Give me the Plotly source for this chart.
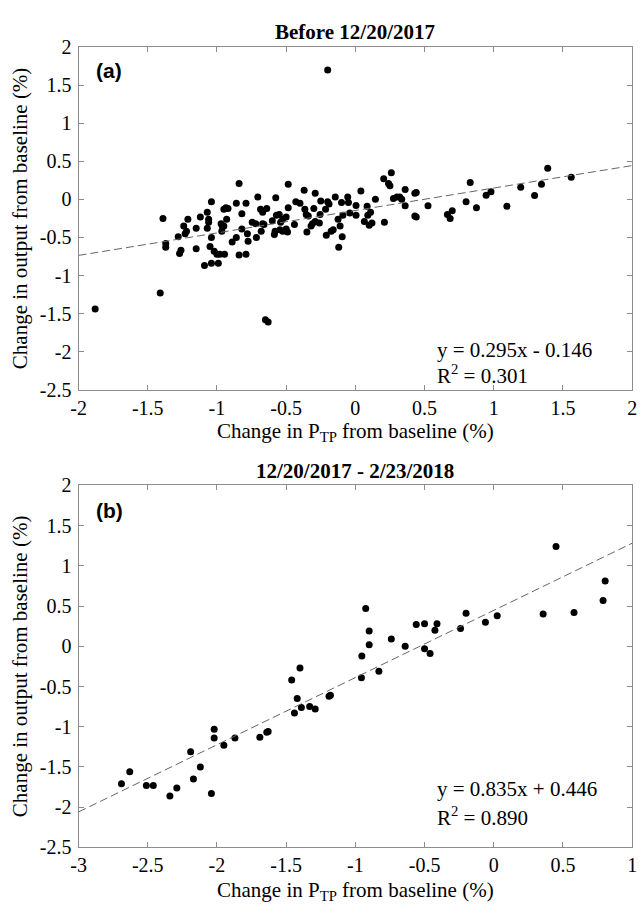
import plotly.graph_objects as go

# ---------------- data ----------------
a_x = [-1.88, -1.41, -1.39, -1.37, -1.37, -1.28, -1.27, -1.26, -1.24, -1.23, -1.22, -1.21,
       -1.15, -1.15, -1.12, -1.09, -1.07, -1.07, -1.06, -1.06, -1.04, -1.04, -1.05, -1.04,
       -1.02, -1.00, -0.98, -0.945, -0.99, -0.97, -0.96, -0.95, -0.965, -0.95, -0.935, -0.92,
       -0.93, -0.89, -0.86, -0.86, -0.84, -0.84, -0.82, -0.82, -0.79, -0.79, -0.78, -0.775,
       -0.745, -0.72, -0.715, -0.705, -0.685, -0.67, -0.68, -0.67,
       -0.66, -0.64, -0.60, -0.585, -0.58, -0.575, -0.57, -0.55, -0.54, -0.525, -0.545, -0.525,
       -0.50, -0.50, -0.49, -0.485, -0.485, -0.44, -0.43, -0.40, -0.37, -0.365, -0.355, -0.34,
       -0.35, -0.32, -0.31, -0.30, -0.29, -0.29, -0.26, -0.25, -0.255, -0.215, -0.21, -0.20,
       -0.19, -0.175, -0.16, -0.145, -0.125, -0.12, -0.11, -0.10, -0.095, -0.09, -0.055, -0.05,
       -0.04, 0.005, 0.005, 0.04, 0.065, 0.085, 0.09, 0.11, 0.10, 0.12, 0.145, 0.21, 0.205,
       0.24, 0.25, 0.26, 0.275, 0.30, 0.32, 0.335, 0.36, 0.36, 0.43, 0.44, 0.43, 0.44, 0.525,
       0.665, 0.685, 0.70, 0.80, 0.83, 0.875, 0.945, 0.98, 1.095, 1.195, 1.295, 1.345, 1.39, 1.56,
       -0.65, -0.63, -0.20]
a_y = [-1.44, -1.23, -0.25, -0.58, -0.63, -0.49, -0.71, -0.67, -0.35, -0.45, -0.42, -0.26,
       -0.38, -0.65, -0.23, -0.87, -0.17, -0.38, -0.26, -0.30, -0.03, -0.50, -0.62, -0.84,
       -0.68, -0.72, -0.72, -0.72, -0.84, -0.32, -0.36, -0.35, -0.42, -0.13, -0.11, -0.12,
       -0.26, -0.56, -0.05, -0.50, 0.21, -0.73, -0.19, -0.39, -0.05, -0.72, -0.45, -0.55,
       -0.30, -0.32, -0.50, 0.03, -0.13, -0.17, -0.42, -0.32,
       -0.33, -0.12, -0.28, -0.46, -0.42, 0.02, -0.21, -0.20, -0.30, -0.26, -0.40, -0.42,
       -0.39, -0.23, -0.43, -0.11, 0.20, -0.33, -0.03, -0.05, 0.12, -0.13, -0.20, -0.22,
       -0.43, -0.35, -0.32, -0.12, 0.08, -0.29, -0.31, -0.02, -0.20, -0.13, -0.47, -0.03,
       -0.06, -0.42, -0.40, 0.03, -0.26, -0.63, -0.35, -0.04, -0.49, -0.21, 0.03, -0.04,
       -0.18, -0.08, -0.21, 0.11, -0.29, -0.09, -0.21, -0.17, -0.34, -0.31, 0.00, -0.30, 0.27,
       0.21, 0.18, 0.35, 0.01, 0.03, 0.03, 0.00, 0.13, -0.085, 0.08, 0.09, -0.22, -0.23, -0.085,
       -0.20, -0.25, -0.15, -0.03, 0.22, -0.11, 0.055, 0.10, -0.09, 0.16, 0.05, 0.20, 0.41, 0.29,
       -1.58, -1.61, 1.70]

b_x = [-2.69, -2.63, -2.51, -2.46, -2.34, -2.29, -2.19, -2.17, -2.12, -2.04, -2.02, -2.02,
       -1.95, -1.87, -1.69, -1.64, -1.63, -1.46, -1.44, -1.40, -1.42, -1.39, -1.33, -1.29,
       -1.19, -1.18, -0.956, -0.953, -0.925, -0.90, -0.90, -0.83, -0.74, -0.64, -0.56, -0.50,
       -0.50, -0.46, -0.425, -0.41, -0.24, -0.20, -0.06, 0.025, 0.357, 0.45, 0.58, 0.79, 0.805]
b_y = [-1.71, -1.56, -1.73, -1.73, -1.86, -1.76, -1.31, -1.65, -1.50, -1.83, -1.03, -1.14,
       -1.23, -1.14, -1.13, -1.07, -1.06, -0.42, -0.83, -0.27, -0.65, -0.76, -0.75, -0.78,
       -0.62, -0.61, -0.39, -0.12, 0.47, 0.19, 0.02, -0.31, 0.09, 0.00, 0.27, 0.28,
       -0.03, -0.09, 0.20, 0.28, 0.22, 0.41, 0.30, 0.38, 0.40, 1.24, 0.42, 0.57, 0.81]

fit_slope = [0.295, 0.835]
fit_intercept = [-0.146, 0.446]
fit_r2 = ["0.301", "0.890"]
panel_titles = ["Before 12/20/2017", "12/20/2017 - 2/23/2018"]
panel_tags = ["(a)", "(b)"]
x_title = "Change in P<sub>TP</sub> from baseline (%)"
y_title = "Change in output from baseline (%)"

a_xticks = [-2, -1.5, -1, -0.5, 0, 0.5, 1, 1.5, 2]
a_xlabels = ["-2", "-1.5", "-1", "-0.5", "0", "0.5", "1", "1.5", "2"]
b_xticks = [-3, -2.5, -2, -1.5, -1, -0.5, 0, 0.5, 1]
b_xlabels = ["-3", "-2.5", "-2", "-1.5", "-1", "-0.5", "0", "0.5", "1"]
yticks = [-2.5, -2, -1.5, -1, -0.5, 0, 0.5, 1, 1.5, 2]
ylabels = ["-2.5", "-2", "-1.5", "-1", "-0.5", "0", "0.5", "1", "1.5", "2"]

a_xrange = [-2, 2]
b_xrange = [-3, 1]
yrange = [-2.5, 2]

# ---------------- figure ----------------
W, H = 644, 917
SERIF = "Liberation Serif"
SANS = "Liberation Sans"
FRAME = "#8c8c8c"


def px(x):
    return x / W


def py(y):
    return 1 - y / H


fig = go.Figure()

for i, (xs, ys, xr, xa, ya) in enumerate([(a_x, a_y, a_xrange, "x", "y"),
                                          (b_x, b_y, b_xrange, "x2", "y2")]):
    fig.add_trace(go.Scatter(x=xs, y=ys, mode="markers", xaxis=xa, yaxis=ya,
                             marker=dict(color="black", size=7), showlegend=False))
    fx = [xr[0], xr[1]]
    fy = [fit_slope[i] * v + fit_intercept[i] for v in fx]
    fig.add_trace(go.Scatter(x=fx, y=fy, mode="lines", xaxis=xa, yaxis=ya,
                             line=dict(color="#666666", width=1, dash="8px,4px"),
                             showlegend=False))

x_dom = [px(72), px(637)]
ya_dom = [py(388), py(37)]
yb_dom = [py(857), py(486)]

common = dict(showgrid=False, zeroline=False, showline=True, mirror="ticks",
              linecolor=FRAME, linewidth=1, ticks="inside", ticklen=5,
              tickcolor=FRAME, tickwidth=1,
              tickfont=dict(family=SERIF, size=20, color="black"))
common_x = dict(common, ticklabelstandoff=0)
common_y = dict(common, ticklabelstandoff=2)
common_y.update(tickvals=yticks, ticktext=ylabels, range=yrange,
                title=dict(text=y_title, standoff=6,
                           font=dict(family=SERIF, size=21, color="black")))

fig.update_layout(
    width=W, height=H, margin=dict(l=0, r=0, t=0, b=0),
    paper_bgcolor="white", plot_bgcolor="white",
    xaxis=dict(common_x, domain=x_dom, range=a_xrange, tickvals=a_xticks,
               ticktext=a_xlabels, anchor="y"),
    yaxis=dict(common_y, domain=ya_dom, anchor="x"),
    xaxis2=dict(common_x, domain=x_dom, range=b_xrange, tickvals=b_xticks,
                ticktext=b_xlabels, anchor="y2"),
    yaxis2=dict(common_y, domain=yb_dom, anchor="x2"),
)

ann = []
cx = (72 + 637) / 2
# titles
for t, yy in zip(panel_titles, [22, 471]):
    ann.append(dict(text="<b>" + t + "</b>", x=px(cx), y=py(yy), xref="paper", yref="paper",
                    showarrow=False, xanchor="center", yanchor="middle",
                    font=dict(family=SERIF, size=21, color="black")))
# x axis titles
for yy in [431, 902]:
    ann.append(dict(text=x_title, x=px(cx), y=py(yy),
                    xref="paper", yref="paper", showarrow=False, xanchor="center",
                    yanchor="middle", font=dict(family=SERIF, size=21, color="black")))
# panel tags
for t, yy in zip(panel_tags, [61, 512]):
    ann.append(dict(text="<b>" + t + "</b>", x=px(88), y=py(yy), xref="paper", yref="paper",
                    showarrow=False, xanchor="left", yanchor="middle",
                    font=dict(family=SANS, size=21, color="black")))
# equations
for i, (y1, y2) in enumerate([(347, 372), (797, 825)]):
    sign = "-" if fit_intercept[i] < 0 else "+"
    eq = "y = %.3fx %s %.3f" % (fit_slope[i], sign, abs(fit_intercept[i]))
    ann.append(dict(text=eq, x=px(436), y=py(y1), xref="paper", yref="paper",
                    showarrow=False, xanchor="left", yanchor="middle",
                    font=dict(family=SERIF, size=21, color="black")))
    ann.append(dict(text="R<sup>2</sup> = " + fit_r2[i], x=px(436), y=py(y2), xref="paper",
                    yref="paper", showarrow=False, xanchor="left", yanchor="middle",
                    font=dict(family=SERIF, size=21, color="black")))

fig.update_layout(annotations=ann)
fig.write_html("out.html")
